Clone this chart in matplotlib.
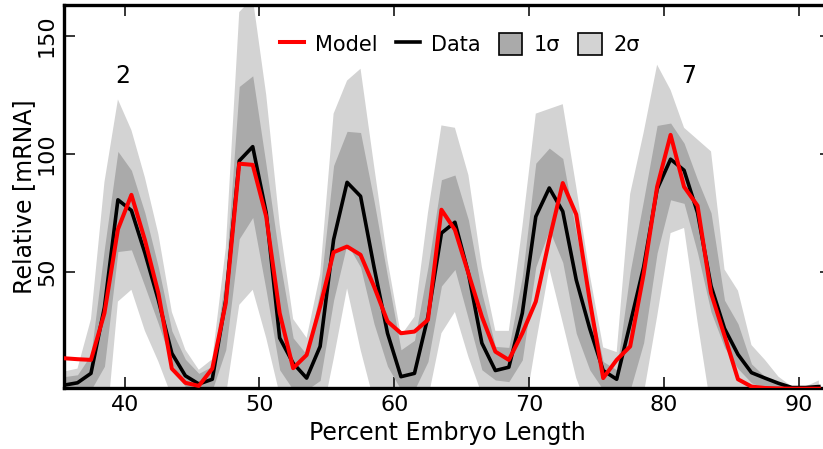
import numpy as np
import matplotlib
matplotlib.use("Agg")
import matplotlib.pyplot as plt
from matplotlib.patches import Patch
from matplotlib.lines import Line2D

# Percent embryo length positions
position = np.arange(35.5, 92.0, 1.0)

data_mean = [2, 3, 7, 35, 80.5, 76, 58, 38, 15.5, 6, 2.5, 4.5, 38, 97, 103,
             75, 22, 11.3, 5, 18.4, 63.6, 87.9, 82, 52, 24, 5.6, 7, 31, 66.4,
             71, 49.4, 19.8, 8.2, 9.6, 32.5, 73.4, 85.5, 75.6, 46.6, 26, 8.2,
             4.5, 28, 52, 85, 97.7, 93, 75, 44, 26, 15, 7.3, 5, 2.8, 1, 1, 1.4]

model = [13.4, 13, 12.7, 32.5, 68, 82.6, 63.5, 41, 9, 3, 1.7, 9, 36.7, 95.8,
         95.3, 73.4, 32.5, 9.2, 14.8, 35.3, 58.3, 60.7, 57.2, 43.8, 29, 24,
         24.7, 29.7, 76.3, 67.8, 49.4, 31, 16.2, 12.7, 24, 37.4, 63.6, 87.6,
         74.3, 38, 5, 12.7, 18.4, 49, 86, 108, 86, 78, 41, 23, 4.5, 1.4, 0.8,
         0.6, 0.5, 0.5, 0.5]

sigma1_low = [0.7, 0.5, 0, 10, 58.6, 59.3, 43.8, 28, 11, 1.4, 0, 0, 17, 64,
              73, 42, 8.5, 0, 0, 4, 38, 62, 52, 28, 10, 0, 0, 12, 44, 51, 30,
              8.5, 4.2, 3.5, 12.7, 52, 67.8, 54, 24, 8.5, 0, 0, 0, 20, 58,
              80.5, 79, 58, 33, 18, 9, 3, 0.7, 0, 0, 0, 0]

sigma1_high = [5.6, 6.4, 15, 60, 101, 93, 75, 52, 25, 13, 7, 10, 49, 128.5,
               133, 95, 55, 22, 15, 42, 95, 109.5, 109, 80, 48, 17, 21, 52,
               89, 91, 72, 41, 18.4, 18, 48, 96, 102.4, 98, 66.4, 38, 12, 8.5,
               50, 80.5, 112, 113, 104.5, 89, 75, 38, 28, 11, 5.6, 2.8, 1.2,
               0.8, 1.4]

sigma2_low = [0, 0, 0, -25, 37.4, 42.4, 25, 12, -3, 0, 0, 0, -3, 36, 42.4,
              22, -2, 0, 0, -15, 13, 43, 17, -5, 0, 0, 0, -4, 24, 33, 14, -2,
              0, 0, -15, 19.5, 51.5, 28.4, 5, -10, 0, 0, 0, -2, 31, 66.4,
              68.6, 28.8, -8, 0, 0, 0, 0, 0, 0, 0, 0]

sigma2_high = [7.8, 9, 30, 88, 123, 110, 90, 66, 33, 17, 8.5, 13, 60, 160,
               166, 125, 70, 30, 22, 49, 117, 131, 136, 95, 55, 23, 31, 75,
               112, 111, 91, 52, 25, 25, 69, 117, 119, 121, 86, 49, 18, 16,
               83, 109, 137.7, 127, 111, 106, 101, 51, 42, 19, 12.7, 5.6, 1.4,
               1.4, 4]

stripe_labels = ["2", "7"]
stripe_x = [39.85, 81.85]
stripe_y = [133, 133]

light = "#d3d3d3"
dark = "#aaaaaa"

fig = plt.figure(figsize=(8.23, 4.49), dpi=100)
W, H = 823, 449
left_px, right_px, top_px, bottom_px = 64, 831, 5, 388
ax = fig.add_axes([left_px / W, (H - bottom_px) / H,
                   (right_px - left_px) / W, (bottom_px - top_px) / H])

ax.fill_between(position, sigma2_low, sigma2_high, color=light, lw=0, zorder=1)
ax.fill_between(position, sigma1_low, sigma1_high, color=dark, lw=0, zorder=2)
ax.plot(position, data_mean, color="black", lw=2.6, zorder=3)
ax.plot(position, model, color="#ff0000", lw=2.9, zorder=4)

for lab, tx, ty in zip(stripe_labels, stripe_x, stripe_y):
    ax.text(tx, ty, lab, fontsize=17, ha="center", va="center", zorder=5)

ax.set_xlim(35.5, 92.4)
ax.set_ylim(0.8, 163)
ax.set_xticks([40, 50, 60, 70, 80, 90])
ax.set_yticks([50, 100, 150])

for s in ax.spines.values():
    s.set_linewidth(2.4)
ax.tick_params(direction="in", length=7.7, width=1.1, top=True, right=True,
               labelsize=16, pad=5)
ax.tick_params(axis="y", labelrotation=90)
for lbl in ax.get_yticklabels():
    lbl.set_va("center")

ax.set_xlabel("Percent Embryo Length", fontsize=17, labelpad=4.5)
ax.set_ylabel("Relative [mRNA]", fontsize=17, labelpad=1)

handles = [Line2D([], [], color="#ff0000", lw=2.9),
           Line2D([], [], color="black", lw=2.6),
           Patch(facecolor=dark, edgecolor="black", lw=1.2),
           Patch(facecolor=light, edgecolor="black", lw=1.2)]
labels = ["Model", "Data", "1σ", "2σ"]
ax.legend(handles, labels, ncol=4, frameon=False, fontsize=15,
          loc="center left",
          bbox_to_anchor=((280 - left_px) / (right_px - left_px),
                          (bottom_px - 44) / (bottom_px - top_px)),
          borderpad=0, borderaxespad=0, handlelength=1.15, handleheight=1.2,
          handletextpad=0.55, columnspacing=0.85)

fig.savefig("out.png", dpi=100)
